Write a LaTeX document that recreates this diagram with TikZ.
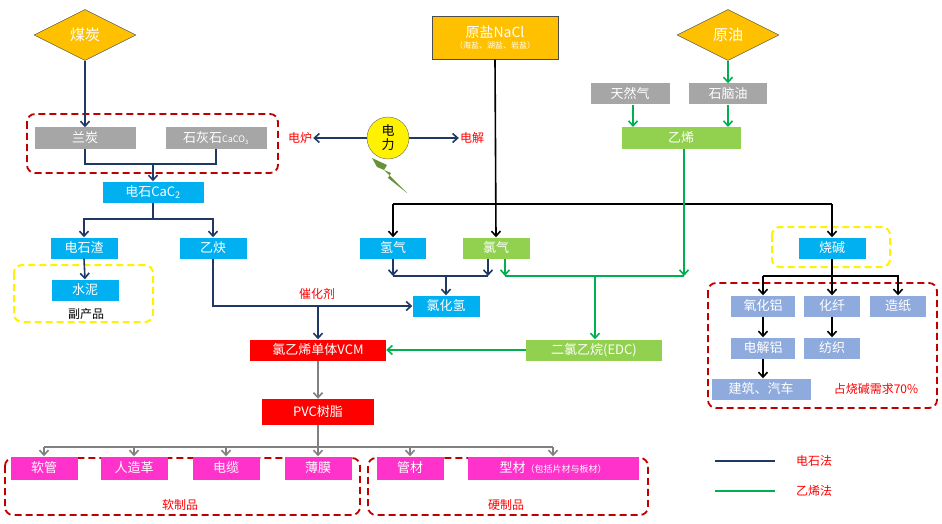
\documentclass[tikz,border=0pt]{standalone}
\usepackage{fontspec}
\setmainfont{Noto Sans CJK SC}
\usetikzlibrary{shapes.geometric,arrows.meta}
\definecolor{cor}{HTML}{FFC000}
\definecolor{cgr}{HTML}{A6A6A6}
\definecolor{cbl}{HTML}{00B0F0}
\definecolor{cgn}{HTML}{92D050}
\definecolor{cmg}{HTML}{FF33CC}
\definecolor{clb}{HTML}{8FAADC}
\definecolor{cnv}{HTML}{1F3864}
\definecolor{cgl}{HTML}{00B050}
\definecolor{cdr}{HTML}{C00000}
\begin{document}
\begin{tikzpicture}[x=1pt,y=-1pt,
 box/.style={draw=none,text=white,inner sep=0pt,font=\fontsize{13}{13}\selectfont,minimum height=21pt},
 dia/.style={diamond,aspect=2,fill=cor,draw=black!70,text=white,font=\fontsize{15}{15}\selectfont,minimum width=102pt,minimum height=51pt,inner sep=0pt},
 nv/.style={cnv,line width=1.6pt,-{Straight Barb[length=5pt,width=9pt]}},
 gl/.style={cgl,line width=1.6pt,-{Straight Barb[length=5pt,width=9pt]}},
 bk/.style={black,line width=1.6pt,-{Straight Barb[length=5pt,width=9pt]}},
 gy/.style={gray,line width=1.6pt,-{Straight Barb[length=5pt,width=9pt]}},
 rd/.style={draw=cdr,line width=1.8pt,dash pattern=on 7pt off 4pt,rounded corners=8pt},
 yd/.style={draw=yellow,line width=2pt,dash pattern=on 7pt off 4pt,rounded corners=8pt},
 lab/.style={text=red,font=\fontsize{12}{12}\selectfont,inner sep=1pt}]
\useasboundingbox (0,0) rectangle (942,524);
% dashed groups
\draw[rd] (27,114) rectangle (278,173);
\draw[yd] (14,265) rectangle (153,322);
\draw[yd] (772,227) rectangle (890,267);
\draw[rd] (708,283) rectangle (937,408);
\draw[rd] (5,458) rectangle (360,515);
\draw[rd] (368,458) rectangle (648,515);
% nodes
\node[dia] (coal) at (85,35) {煤炭};
\node[dia] (oil) at (728,35) {原油};
\node[fill=cor,draw=black!70,text=white,align=center,minimum width=126pt,minimum height=43pt,inner sep=0pt] (salt) at (495,38) {{\fontsize{14}{15}\selectfont 原盐NaCl}\\[-1pt]{\fontsize{8}{9}\selectfont （海盐、湖盐、岩盐）}};
\node[box,fill=cgr,minimum width=79pt] (gas) at (630,94) {天然气};
\node[box,fill=cgr,minimum width=78pt] (naph) at (728,94) {石脑油};
\node[box,fill=cgn,minimum width=119pt] (eth) at (681,138) {乙烯};
\node[box,fill=cgr,minimum width=101pt] (lan) at (85,138) {兰炭};
\node[box,fill=cgr,minimum width=101pt] (lime) at (216,138) {石灰石{\fontsize{9}{9}\selectfont CaCO\textsubscript{3}}};
\node[lab] (furn) at (300,138) {电炉};
\node[circle,fill=yellow,draw=black!60,minimum size=42pt,inner sep=0pt,align=center,font=\fontsize{13}{14}\selectfont] (pow) at (388,138) {电\\力};
\node[lab] (elec) at (472,138) {电解};
\fill[cgn!70!black] (372,158) -- (387,165) -- (384,170) -- (407,193) -- (388,178) -- (391,173) -- (377,167) -- cycle;
\node[box,fill=cbl,minimum width=101pt] (carb) at (153,192) {电石CaC\textsubscript{2}};
\node[box,fill=cbl,minimum width=67pt] (slag) at (84,248) {电石渣};
\node[box,fill=cbl,minimum width=67pt] (acet) at (213,248) {乙炔};
\node[box,fill=cbl,minimum width=67pt] (cem) at (85,290) {水泥};
\node[inner sep=0pt,font=\fontsize{12}{12}\selectfont] (byp) at (86,314) {副产品};
\node[box,fill=cbl,minimum width=66pt] (h2) at (393,248) {氢气};
\node[box,fill=cgn,minimum width=67pt] (cl2) at (496,248) {氯气};
\node[box,fill=cbl,minimum width=67pt] (hcl) at (446,306) {氯化氢};
\node[lab] (cat) at (317,294) {催化剂};
\node[box,fill=cbl,minimum width=67pt] (naoh) at (832,248) {烧碱};
\node[box,fill=clb,minimum width=64pt] (alo) at (763,306) {氧化铝};
\node[box,fill=clb,minimum width=56pt] (fib) at (832,306) {化纤};
\node[box,fill=clb,minimum width=56pt] (pap) at (898,306) {造纸};
\node[box,fill=clb,minimum width=64pt] (al) at (763,348) {电解铝};
\node[box,fill=clb,minimum width=56pt] (tex) at (832,348) {纺织};
\node[box,fill=clb,minimum width=99pt] (bld) at (761,389) {建筑、汽车};
\node[lab] (pct) at (876,389) {占烧碱需求70\%};
\node[box,fill=red,minimum width=136pt] (vcm) at (318,350) {氯乙烯单体VCM};
\node[box,fill=cgn,minimum width=136pt] (edc) at (594,350) {二氯乙烷(EDC)};
\node[box,fill=red,minimum width=112pt,minimum height=26pt] (pvc) at (318,412) {PVC树脂};
\node[box,fill=cmg,minimum width=67pt,minimum height=23pt] (p1) at (44,468) {软管};
\node[box,fill=cmg,minimum width=67pt,minimum height=23pt] (p2) at (134,468) {人造革};
\node[box,fill=cmg,minimum width=67pt,minimum height=23pt] (p3) at (226,468) {电缆};
\node[box,fill=cmg,minimum width=67pt,minimum height=23pt] (p4) at (318,468) {薄膜};
\node[box,fill=cmg,minimum width=67pt,minimum height=23pt] (p5) at (410,468) {管材};
\node[box,fill=cmg,minimum width=171pt,minimum height=23pt] (p6) at (553,468) {型材{\fontsize{9}{9}\selectfont（包括片材与板材）}};
\node[lab] (soft) at (180,505) {软制品};
\node[lab] (hard) at (506,505) {硬制品};
\coordinate (l1a) at (715,461); \coordinate (l1b) at (775,461);
\coordinate (l2a) at (715,491); \coordinate (l2b) at (775,491);
\node[lab,anchor=west] (lg1) at (795,461) {电石法};
\node[lab,anchor=west] (lg2) at (795,491) {乙烯法};
\draw[cnv,line width=1.8pt] (l1a) -- (l1b);
\draw[cgl,line width=1.8pt] (l2a) -- (l2b);
% connectors
\draw[nv] (coal.south) -- (lan.north);
\draw[nv] (lan.south) |- (153,164) -| (lime.south) (153,164) -- (carb.north);
\draw[nv] (carb.south) -- (153,219) -| (slag.north);
\draw[nv] (153,219) -| (acet.north);
\draw[nv] (slag.south) -- (cem.north);
\draw[nv] (acet.south) |- (hcl.west);
\draw[nv] (318,306) -- (vcm.north);
\draw[nv] (pow.west) -- (furn.east);
\draw[nv] (pow.east) -- (elec.west);
\draw[nv] (h2.south) -- (393,276);
\draw[nv] (cl2.south -| 488,0) -- (488,276);
\draw[cnv,line width=1.6pt] (393,276) -- (488,276);
\draw[nv] (446,276) -- (hcl.north);
\draw[bk] (salt.south) -- (cl2.north);
\draw[bk] (393,204) -- (h2.north);
\draw[black,line width=1.6pt] (393,204) -- (832,204);
\draw[bk] (832,204) -- (naoh.north);
\draw[black,line width=1.6pt] (naoh.south) -- (832,276);
\draw[bk] (763,276) -- (898,276) -- (pap.north);
\draw[bk] (763,276) -- (alo.north);
\draw[bk] (832,276) -- (fib.north);
\draw[bk] (alo.south) -- (al.north);
\draw[bk] (fib.south) -- (tex.north);
\draw[bk] (al.south) -- (bld.north -| al.south);
\draw[gl] (oil.south) -- (naph.north);
\draw[gl] (gas.south -| 633,0) -- (633,127);
\draw[gl] (naph.south) -- (728,127);
\draw[gl] (eth.south -| 684,0) -- (684,276);
\draw[gl] (cl2.south -| 505,0) -- (505,276);
\draw[cgl,line width=1.6pt] (505,276) -- (684,276);
\draw[gl] (595,276) -- (edc.north -| 595,0);
\draw[gl] (edc.west) -- (vcm.east);
\draw[gy] (vcm.south) -- (pvc.north);
\draw[gray,line width=1.6pt] (pvc.south) -- (318,447);
\draw[gray,line width=1.6pt] (44,447) -- (553,447);
\foreach \n/\x in {p1/44,p2/134,p3/226,p4/318,p5/410,p6/553} \draw[gy] (\x,447) -- (\n.north);
\end{tikzpicture}
\end{document}
